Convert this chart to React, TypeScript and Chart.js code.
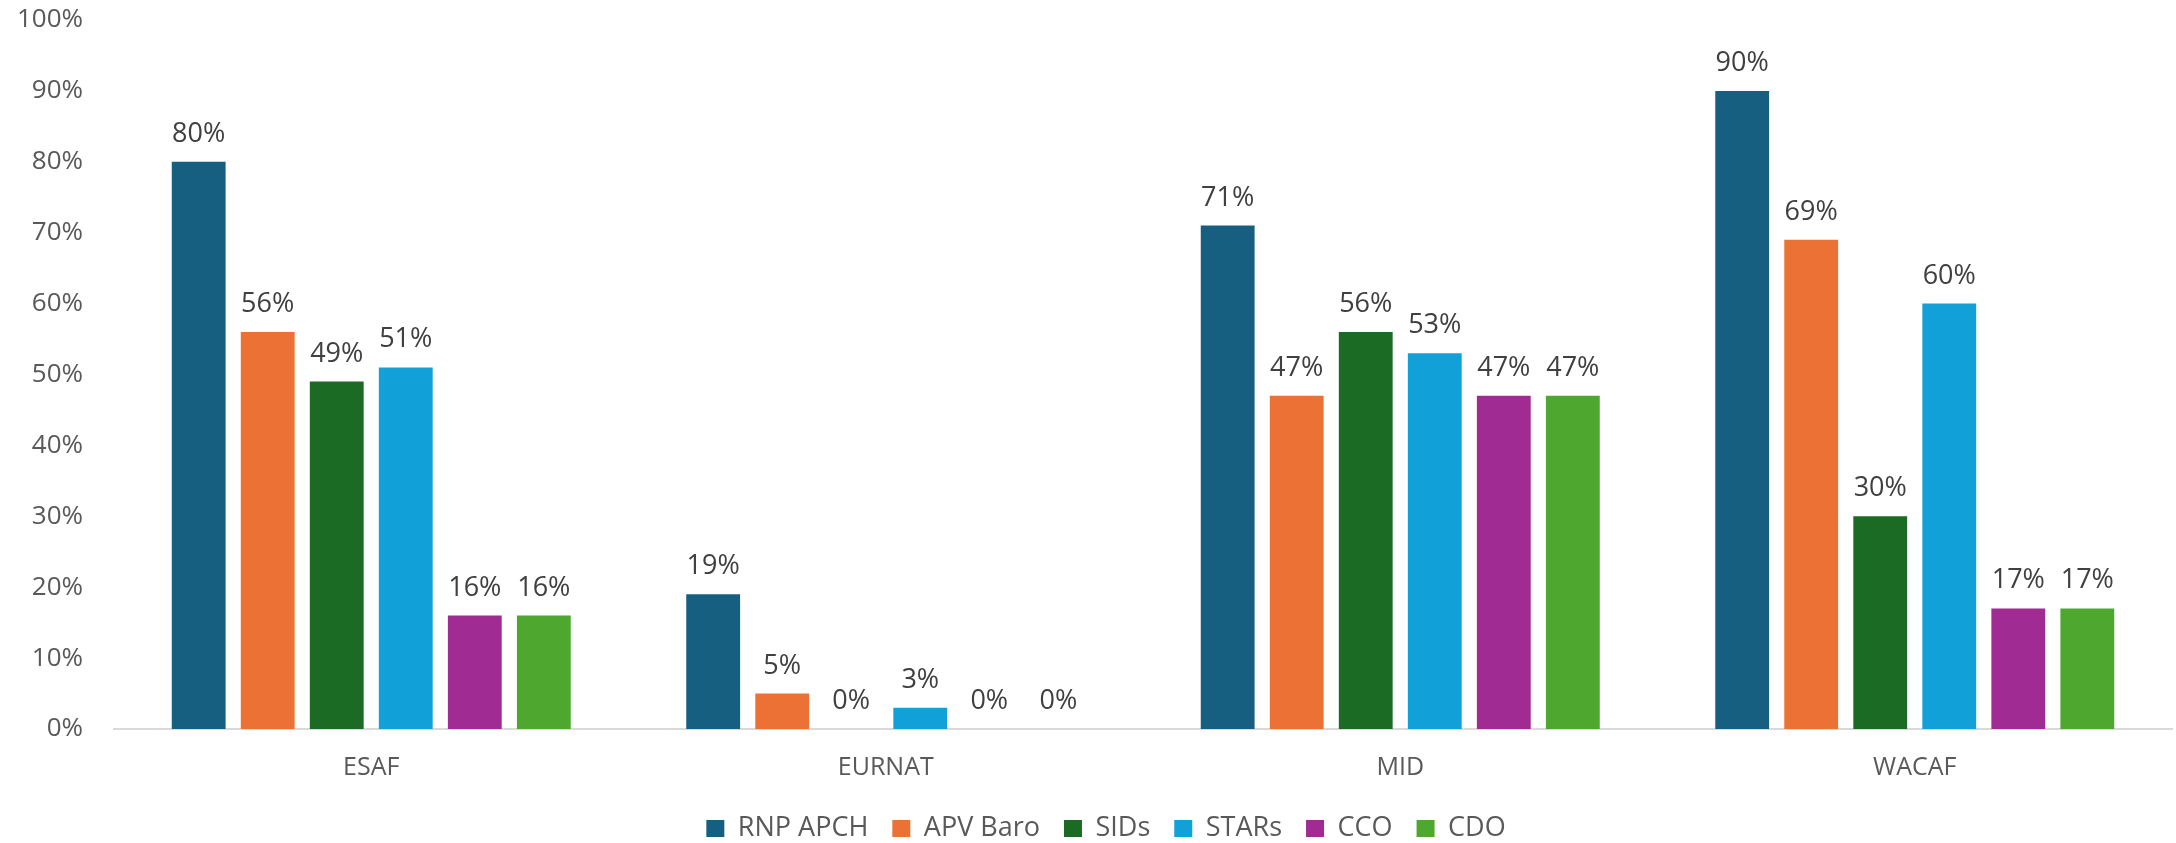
import React, { useEffect, useRef } from "react";
import { Chart, registerables } from "chart.js";

Chart.register(...registerables);

const categories = ["ESAF", "EURNAT", "MID", "WACAF"];
const seriesNames = ["RNP APCH", "APV Baro", "SIDs", "STARs", "CCO", "CDO"];
const rnpApch = [80, 19, 71, 90];
const apvBaro = [56, 5, 47, 69];
const sids = [49, 0, 56, 30];
const stars = [51, 3, 53, 60];
const cco = [16, 0, 47, 17];
const cdo = [16, 0, 47, 17];
const seriesColors = ["#175F80", "#EB7234", "#1B6B24", "#12A0D8", "#A02B93", "#4EA72E"];

const valueLabels = {
  id: "valueLabels",
  afterDatasetsDraw(chart: any) {
    const ctx = chart.ctx;
    ctx.save();
    ctx.font = "27px 'Open Sans'";
    ctx.fillStyle = "#404040";
    ctx.textAlign = "center";
    ctx.textBaseline = "alphabetic";
    chart.data.datasets.forEach((ds: any, i: number) => {
      const meta = chart.getDatasetMeta(i);
      meta.data.forEach((el: any, j: number) => {
        ctx.fillText(ds.data[j] + "%", el.x, el.y - 20);
      });
    });
    ctx.restore();
  },
};

const legendMover = {
  id: "legendMover",
  afterLayout(chart: any) {
    const lg = chart.legend;
    if (lg) {
      const h = lg.height;
      lg.top = 791;
      lg.bottom = 791 + h;
      lg.left += 20;
      lg.right += 20;
    }
  },
};

export default function App() {
  const ref = useRef<HTMLCanvasElement>(null);
  useEffect(() => {
    if (!ref.current) return;
    const values = [rnpApch, apvBaro, sids, stars, cco, cdo];
    const chart = new Chart(ref.current, {
      type: "bar",
      data: {
        labels: categories,
        datasets: seriesNames.map((n, i) => ({
          label: n,
          data: values[i],
          backgroundColor: seriesColors[i],
          borderWidth: 0,
          barPercentage: 0.78,
          categoryPercentage: 0.805,
        })),
      },
      options: {
        responsive: false,
        animation: false,
        layout: { autoPadding: false, padding: { top: 20, right: 4, left: 0, bottom: -25 } },
        plugins: {
          legend: {
            position: "bottom",
            labels: {
              boxWidth: 18,
              boxHeight: 17,
              padding: 24,
              color: "#595959",
              font: { family: "'Open Sans'", size: 27 },
            },
          },
          tooltip: { enabled: false },
        },
        scales: {
          x: {
            grid: { display: false, drawTicks: false },
            border: { display: true, color: "#D9D9D9", width: 2 },
            ticks: {
              color: "#595959",
              font: { family: "'Open Sans'", size: 25 },
              padding: 24,
            },
          },
          y: {
            min: 0,
            max: 100,
            grid: { display: false, drawTicks: false },
            border: { display: false },
            afterFit: (s: any) => {
              s.width = 114;
              s.paddingTop = 0;
              s.paddingBottom = 0;
            },
            ticks: {
              stepSize: 10,
              padding: 31,
              color: "#595959",
              font: { family: "'Open Sans'", size: 26 },
              callback: (v: any) => v + "%",
            },
          },
        },
      },
      plugins: [valueLabels, legendMover],
    });
    return () => chart.destroy();
  }, []);
  return (
    <div style={{ position: "fixed", left: 0, top: 0, width: 2176, height: 843, background: "#fff" }}>
      <canvas ref={ref} width={2176} height={843} style={{ display: "block" }} />
    </div>
  );
}
